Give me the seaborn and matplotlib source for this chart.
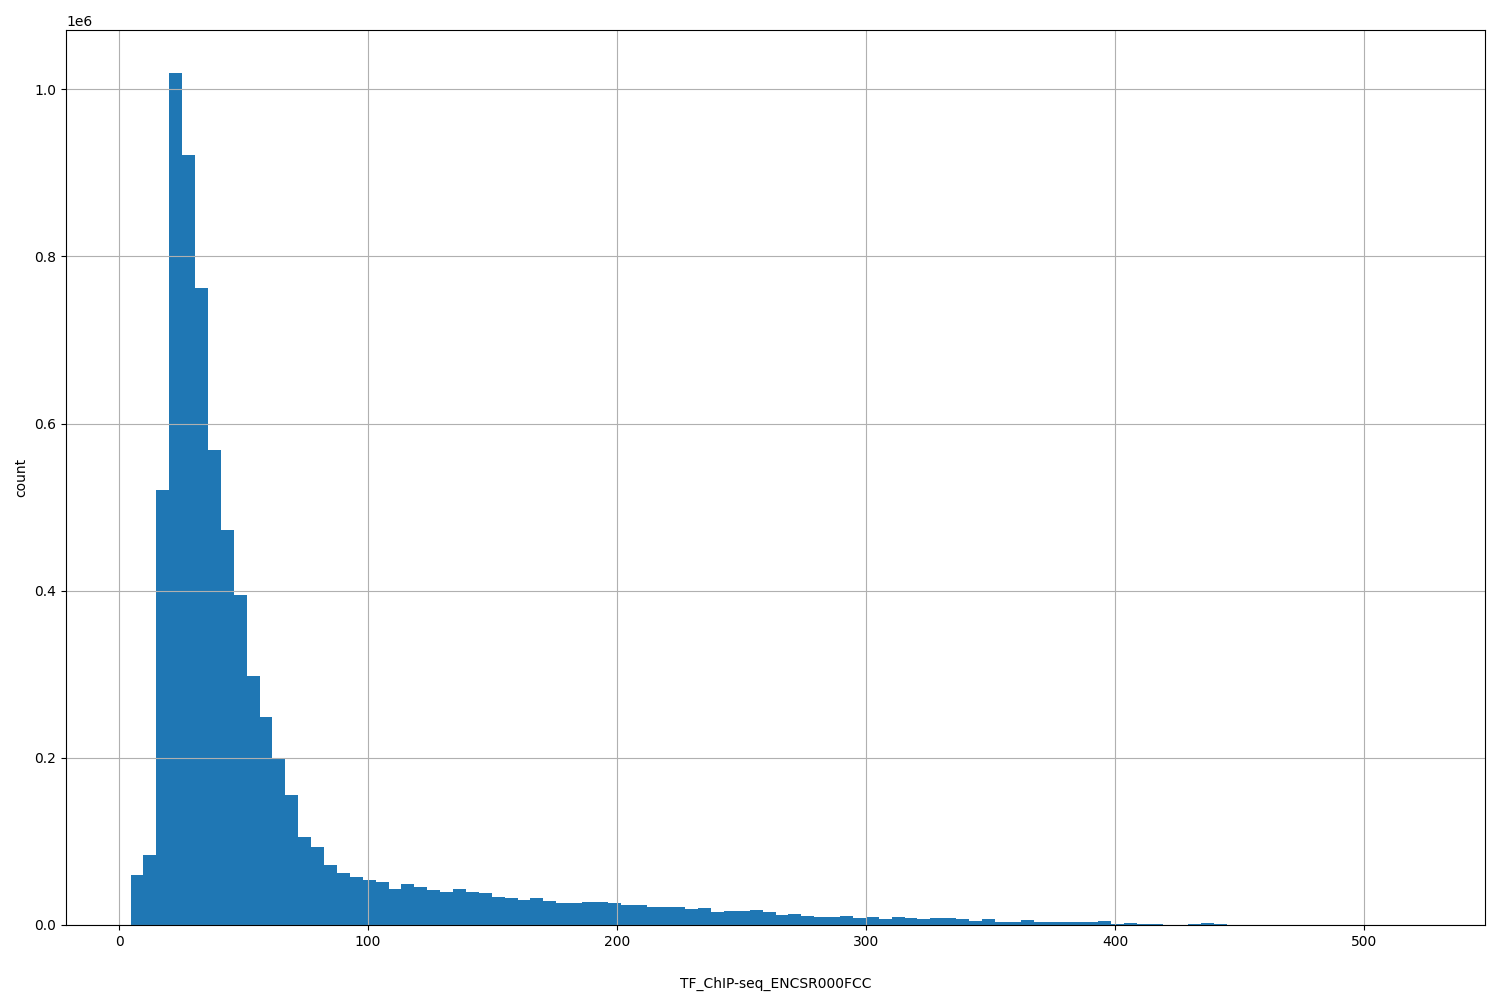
import numpy as np
import pandas as pd
import matplotlib
matplotlib.use("Agg")
import matplotlib.pyplot as plt
import seaborn as sns

# histogram counts (millions), 100 equal bins
bin_start = 4.6
bin_stop = 522.6
counts_m = [
    0.060, 0.084, 0.520, 1.020, 0.922, 0.762, 0.568, 0.473, 0.395, 0.298,
    0.249, 0.200, 0.156, 0.105, 0.093, 0.072, 0.062, 0.057, 0.054, 0.051,
    0.043, 0.049, 0.045, 0.042, 0.040, 0.043, 0.040, 0.038, 0.034, 0.032,
    0.030, 0.032, 0.029, 0.026, 0.026, 0.027, 0.027, 0.026, 0.024, 0.024,
    0.021, 0.022, 0.022, 0.019, 0.020, 0.016, 0.017, 0.017, 0.018, 0.016,
    0.012, 0.013, 0.011, 0.010, 0.010, 0.011, 0.008, 0.009, 0.007, 0.009,
    0.008, 0.007, 0.008, 0.008, 0.007, 0.005, 0.007, 0.004, 0.004, 0.006,
    0.004, 0.003, 0.004, 0.004, 0.004, 0.005, 0.001, 0.002, 0.001, 0.001,
    0.0005, 0.0003, 0.001, 0.002, 0.001, 0.0003, 0.0002, 0.0002, 0.0001, 0.0001,
    0.0001, 0.0001, 0.0001, 0.0001, 0.0001, 0.0001, 0.0001, 0.0001, 0.0001, 0.0001,
]

n_bins = len(counts_m)
width = (bin_stop - bin_start) / n_bins
df = pd.DataFrame({
    "value": bin_start + width * (np.arange(n_bins) + 0.5),
    "w": np.array(counts_m) * 1e6,
})

fig, ax = plt.subplots(figsize=(15, 10), dpi=100)
sns.histplot(data=df, x="value", weights="w", bins=n_bins,
             binrange=(bin_start, bin_stop), ax=ax,
             color="#1f77b4", alpha=1.0, edgecolor="none", linewidth=0)
ax.grid(True, color="#b0b0b0", linewidth=0.8)
ax.set_xlabel("TF_ChIP-seq_ENCSR000FCC", labelpad=20)
ax.set_ylabel("count")
ax.ticklabel_format(axis="y", style="sci", scilimits=(0, 0))
ax.margins(x=0.05)
fig.subplots_adjust(left=0.044, right=0.99, top=0.97, bottom=0.075)
fig.savefig("out.png", dpi=100)
